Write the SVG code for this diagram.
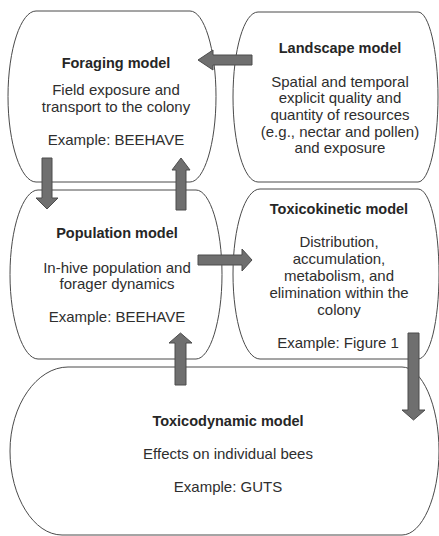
<svg xmlns="http://www.w3.org/2000/svg" width="439" height="536" viewBox="0 0 439 536">
<style>
.node{fill:#fff;stroke:#4a4a4a;stroke-width:1}
.t{font-family:"Liberation Sans",Arial,Helvetica,sans-serif;font-size:14.5px;font-weight:bold;fill:#262626;text-anchor:middle}
.b{font-family:"Liberation Sans",Arial,Helvetica,sans-serif;font-size:15px;fill:#2e2e2e;text-anchor:middle}
.arr{fill:#6f6f6f;stroke:#4c4c4c;stroke-width:1;stroke-linejoin:miter}
</style>
<rect width="439" height="536" fill="#fff"/>
<g id="foraging">
<path class="node" d="M36,11 H190 C204,11 216,49 216,96.5 C216,144 204,182 190,182 H36 C21,182 8,144 8,96.5 C8,49 21,11 36,11 Z"/>
<text class="t" x="116" y="68">Foraging model</text>
<text class="b" x="116" y="95">Field exposure and</text>
<text class="b" x="116" y="112">transport to the colony</text>
<text class="b" x="116" y="145">Example: BEEHAVE</text>
</g>
<g id="landscape">
<path class="node" d="M258,12 H418 C429,12 438,50 438,97 C438,144 429,182 418,182 H258 C244,182 233,144 233,97 C233,50 244,12 258,12 Z"/>
<text class="t" x="340" y="53">Landscape model</text>
<text class="b" x="340" y="87">Spatial and temporal</text>
<text class="b" x="340" y="103">explicit quality and</text>
<text class="b" x="340" y="120">quantity of resources</text>
<text class="b" x="340" y="137">(e.g., nectar and pollen)</text>
<text class="b" x="340" y="153">and exposure</text>
</g>
<g id="population">
<path class="node" d="M38,190 H196 C210,190 222,228 222,274.5 C222,321 210,359 196,359 H38 C23,359 10,321 10,274.5 C10,228 23,190 38,190 Z"/>
<text class="t" x="117" y="238">Population model</text>
<text class="b" x="117" y="273">In-hive population and</text>
<text class="b" x="117" y="289">forager dynamics</text>
<text class="b" x="117" y="322">Example: BEEHAVE</text>
</g>
<g id="toxicokinetic">
<path class="node" d="M260,189 H418 C430,189 439,227 439,274 C439,321 430,359 418,359 H260 C245,359 233,321 233,274 C233,227 245,189 260,189 Z"/>
<text class="t" x="339" y="214">Toxicokinetic model</text>
<text class="b" x="339" y="247">Distribution,</text>
<text class="b" x="339" y="264">accumulation,</text>
<text class="b" x="339" y="281">metabolism, and</text>
<text class="b" x="339" y="298">elimination within the</text>
<text class="b" x="339" y="315">colony</text>
<text class="b" x="338" y="348">Example: Figure 1</text>
</g>
<g id="toxicodynamic">
<path class="node" d="M68,367 H402 C422,367 439,405 439,451 C439,497 422,535 402,535 H62 C34,535 10,497 10,451 C10,405 37,367 68,367 Z"/>
<text class="t" x="228" y="426">Toxicodynamic model</text>
<text class="b" x="228" y="459">Effects on individual bees</text>
<text class="b" x="228" y="492">Example: GUTS</text>
</g>
<g id="connectors">
<polygon class="arr" points="252,55 213,55 213,50 198,60 213,70 213,65 252,65"/>
<polygon class="arr" points="42,158 52,158 52,198 58,198 47,209 36,198 42,198"/>
<polygon class="arr" points="176,210 176,170 172,170 181,158 190,170 186,170 186,210"/>
<polygon class="arr" points="198,255 242,255 242,249 252,260 242,271 242,265 198,265"/>
<polygon class="arr" points="175,385 175,343 169,343 180.5,333 192,343 186,343 186,385"/>
<polygon class="arr" points="408,333 419,333 419,410 425,410 413.5,420 402,410 408,410"/>
</g>
</svg>
